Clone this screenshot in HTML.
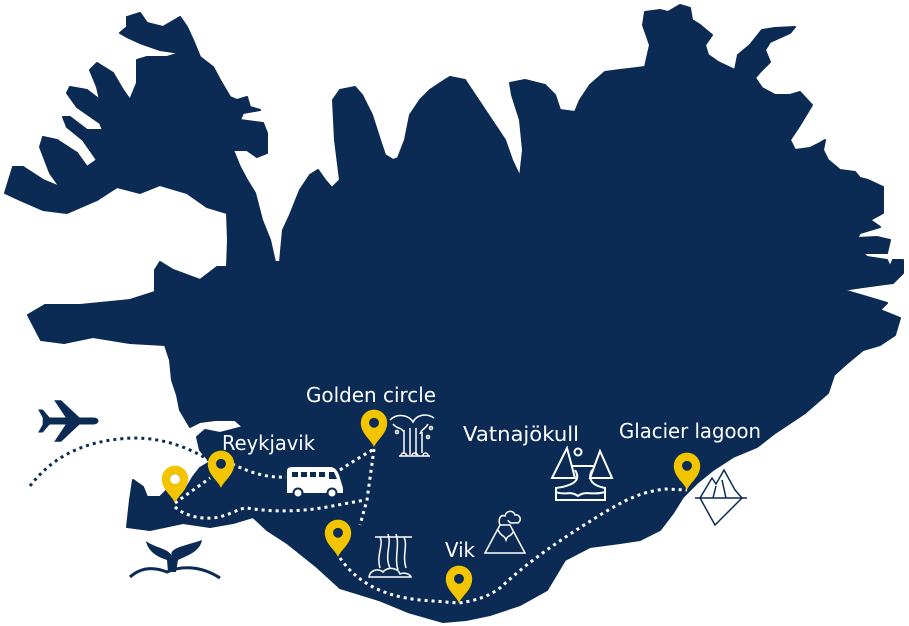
<!DOCTYPE html>
<html><head><meta charset="utf-8"><style>
html,body{margin:0;padding:0;background:#fff;}
svg{display:block;}
text{font-family:"DejaVu Sans","Liberation Sans",sans-serif;fill:#fff;}
</style></head><body>
<svg width="909" height="626" viewBox="0 0 909 626" xmlns="http://www.w3.org/2000/svg">
<defs>
<g id="pin0"><path d="M0,0 C-3,-7 -12,-12 -12,-22 A12 12 0 1 1 12,-22 C12,-12 3,-7 0,0 Z" fill="#f2c500"/><circle cx="0" cy="-22" r="4.5" fill="#0b2b54"/></g>
<g id="pin"><use href="#pin0" transform="scale(1.1)"/></g>
</defs>
<path fill="#0b2b54" stroke="#0b2b54" stroke-width="2" stroke-linejoin="round" d="M5,193 L13,167 L23,167 L43,180 L60,187 L50,173 L40,147 L43,137 L57,140 L77,153 L87,167 L97,160 L83,140 L67,127 L63,117 L70,117 L87,130 L103,130 L100,123 L77,107 L67,93 L70,87 L87,90 L100,100 L97,87 L90,70 L97,63 L113,73 L123,90 L130,100 L137,83 L137,60 L147,57 L167,57 L180,53 L160,50 L140,43 L127,37 L120,33 L127,27 L127,17 L140,13 L147,23 L163,27 L180,17 L187,27 L193,40 L200,57 L213,67 L220,80 L230,97 L237,100 L247,97 L250,107 L260,110 L243,113 L240,120 L263,123 L267,133 L267,153 L257,157 L247,150 L233,150 L240,167 L247,180 L255,193 L262,220 L270,240 L275,262 L280,262 L283,230 L290,215 L300,190 L310,175 L318,170 L325,180 L332,188 L340,180 L335,140 L333,100 L340,90 L355,87 L362,95 L372,115 L380,140 L385,155 L393,160 L398,158 L405,140 L410,115 L420,100 L430,90 L445,80 L450,77 L465,80 L475,95 L485,110 L495,125 L505,140 L512,160 L520,177 L523,150 L520,120 L512,95 L510,83 L525,80 L545,85 L555,95 L560,110 L575,112 L580,100 L590,85 L605,72 L620,70 L645,67 L650,45 L643,25 L645,12 L660,10 L668,12 L680,5 L690,8 L692,20 L700,25 L712,35 L705,45 L708,55 L718,62 L735,70 L738,55 L750,45 L762,30 L775,28 L795,27 L790,33 L770,42 L765,50 L770,62 L760,72 L755,78 L762,88 L775,95 L790,95 L800,92 L812,105 L800,125 L790,140 L795,150 L810,148 L820,143 L825,140 L823,150 L828,160 L840,170 L855,172 L860,178 L868,180 L883,187 L883,213 L870,220 L880,227 L860,233 L857,238 L877,237 L890,240 L887,253 L863,253 L867,257 L887,260 L890,267 L893,260 L903,260 L903,273 L893,283 L863,287 L843,290 L867,297 L887,303 L880,310 L900,318 L895,335 L880,345 L863,350 L845,365 L834,375 L828,393 L805,413 L775,433 L757,447 L733,457 L713,470 L697,483 L683,497 L673,513 L660,530 L640,540 L620,543 L590,547 L565,560 L547,590 L520,605 L490,615 L466,620 L443,622 L408,612 L379,600 L340,588 L317,567 L287,543 L267,530 L253,517 L233,523 L210,527 L183,523 L150,530 L127,527 L130,500 L133,480 L143,487 L147,497 L160,497 L167,490 L187,487 L193,477 L200,468 L210,462 L200,450 L197,437 L205,430 L220,433 L243,427 L235,420 L215,420 L200,422 L190,427 L180,410 L177,395 L172,380 L170,360 L165,345 L130,343 L93,337 L64,343 L41,340 L28,315 L45,305 L80,305 L130,300 L155,292 L155,270 L160,262 L173,270 L200,280 L217,267 L227,267 L228,240 L227,213 L207,207 L187,193 L160,185 L140,193 L117,187 L97,200 L67,213 L43,210 L20,200 Z"/>
<!-- plane -->
<g fill="#0b2b54" transform="translate(68,421) scale(1.15)">
<path d="M-22,-3 L22,-3 C28,-3 28,3 22,3 L-22,3 Z"/>
<path d="M-2,-3 L-12,-18 L-6,-18 L10,-3 Z"/>
<path d="M-2,3 L-12,18 L-6,18 L10,3 Z"/>
<path d="M-22,-3 L-26,-10 L-22,-10 L-16,-3 Z M-22,3 L-26,10 L-22,10 L-16,3 Z"/>
</g>
<path d="M30,486 C50,460 80,440 133,438 C165,438 190,448 212,462" fill="none" stroke="#0b2b54" stroke-width="3" stroke-dasharray="3 4"/>
<g fill="none" stroke="#fff" stroke-width="3" stroke-dasharray="3 4">
<path d="M175,503 L210,478"/>
<path d="M232,464 C250,472 265,478 286,477"/>
<path d="M340,470 C352,462 362,456 374,449"/>
<path d="M374,449 L367,500 L360,525"/>
<path d="M175,507 C185,516 200,519 213,518 C230,516 238,508 247,508 C270,512 300,512 327,507 L365,500"/>
<path d="M340,558 C355,580 380,596 420,600 L459,603 C480,600 490,595 500,588 C530,560 560,540 600,515 C625,500 640,492 665,489 L687,490"/>
</g>
<use href="#pin" x="175" y="503"/>
<use href="#pin" x="221" y="488"/>
<use href="#pin" x="374" y="447"/>
<use href="#pin" x="338" y="557"/>
<use href="#pin" x="459" y="603"/>
<use href="#pin" x="687" y="490"/>
<circle cx="175" cy="479" r="5" fill="#fff"/>
<g fill="#fff"><path d="M287,471 Q287,467 292,467 L330,467 Q336,467 339,475 L343,488 L343,493 L287,493 Z"/></g>
<g fill="#0b2b54"><rect x="292" y="472" width="6" height="5"/><rect x="301" y="472" width="6" height="5"/><rect x="310" y="472" width="6" height="5"/><rect x="319" y="472" width="6" height="5"/><path d="M329,472 L334,472 L337,479 L329,479Z"/></g>
<circle cx="298" cy="493" r="4.5" fill="#fff" stroke="#0b2b54" stroke-width="2"/>
<circle cx="332" cy="493" r="4.5" fill="#fff" stroke="#0b2b54" stroke-width="2"/>
<g fill="none" stroke="#fff" stroke-width="1.5">
<path d="M390,420 C398,412 410,416 413,422 C416,416 425,412 434,418 M393,424 C398,430 400,426 404,432 M428,424 C425,430 422,428 420,434"/>
<path d="M404,430 L404,453 M410,428 L410,455 M416,428 L416,455 M422,432 L422,453"/>
<path d="M399,456 L430,456 M401,456 C401,452 406,452 407,456 M412,456 C412,452 417,452 418,456 M423,456 C423,452 428,452 428,456"/>
<circle cx="397" cy="432" r="1.5"/><circle cx="428" cy="437" r="1.5"/><circle cx="431" cy="428" r="1.5"/>
</g>
<g fill="none" stroke="#fff" stroke-width="1.5">
<path d="M375,537 L412,537 M380,537 C384,545 376,555 380,568 M388,534 C392,545 384,555 390,568 M396,534 C400,545 394,558 398,570 M404,537 C408,545 402,556 406,568"/>
<path d="M369,577 C370,570 378,568 383,572 C388,566 398,568 400,574 C404,572 410,574 411,577 Z"/>
</g>
<g fill="none" stroke="#fff" stroke-width="1.5">
<path d="M485,553 L500,525 L510,525 L525,553 Z M500,525 C498,520 500,514 505,516 C506,510 514,510 515,515 C520,514 522,520 518,523 C514,522 510,525 508,520"/>
<path d="M498,530 C502,538 504,534 506,540 C508,534 510,538 513,532"/>
</g>
<g fill="none" stroke="#fff" stroke-width="2">
<path d="M552,478 L567,448 L575,478 Z M590,478 L600,451 L612,478 Z"/>
<path d="M572,466 L595,466 M575,470 C580,478 578,485 556,488 L556,500 L605,500 L605,488 C590,485 588,478 592,470"/>
<path d="M556,492 C565,496 570,490 578,496 C585,490 592,496 605,492"/>
<circle cx="578" cy="452" r="3.5"/>
</g>
<g fill="none" stroke="#0b2b54" stroke-width="1.5">
<path d="M695,498 L747,498"/>
<path d="M700,498 L712,478 L716,484 L724,470 L735,490 L742,498"/>
<path d="M713,498 L716,486 M726,498 L722,480"/>
<path d="M700,498 L715,525 L720,520 L742,498"/>
</g>
<g fill="#0b2b54">
<path d="M146,541 C155,548 168,548 172,556 C168,548 185,546 202,540 C200,552 186,556 178,560 L176,572 L168,572 L167,560 C158,557 148,552 146,541 Z"/>
</g>
<path d="M130,577 C140,568 152,566 167,572 C180,566 200,565 220,578" fill="none" stroke="#0b2b54" stroke-width="3"/>
<text x="306" y="402" font-size="20" textLength="130" lengthAdjust="spacingAndGlyphs">Golden circle</text>
<text x="222" y="450" font-size="20" textLength="93" lengthAdjust="spacingAndGlyphs">Reykjavik</text>
<text x="463" y="441" font-size="20" textLength="116" lengthAdjust="spacingAndGlyphs">Vatnajökull</text>
<text x="619" y="438" font-size="20" textLength="142" lengthAdjust="spacingAndGlyphs">Glacier lagoon</text>
<text x="445" y="557" font-size="20" textLength="30" lengthAdjust="spacingAndGlyphs">Vik</text>
</svg>
</body></html>
